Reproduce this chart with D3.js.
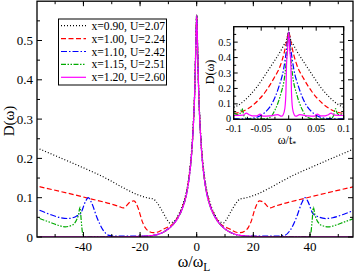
<!DOCTYPE html>
<html>
<head>
<meta charset="utf-8">
<script src="https://cdn.jsdelivr.net/npm/d3@7"></script>
<style>
  body { margin: 0; background: #fff; }
  svg { display: block; font-family: 'Liberation Serif', 'Times New Roman', serif; }
</style>
</head>
<body>
<svg id="chart"></svg>
<script>
// legend / series labels
const labels = ['x=0.90, U=2.07', 'x=1.00, U=2.24', 'x=1.10, U=2.42', 'x=1.15, U=2.51', 'x=1.20, U=2.60'];

// main panel, omega/omega_L >= 0 (curves are symmetric in omega)
const w090 = [0, 0.35, 0.7, 1.2, 1.8, 2.6, 3.6, 4.8, 6.5, 8, 9.5, 10.7, 12.5, 14.2, 15.4, 16.3, 35.3, 55.5];
const d090 = [0.565, 0.478, 0.375, 0.29, 0.22, 0.163, 0.118, 0.085, 0.056, 0.04, 0.036, 0.047, 0.07, 0.089, 0.097, 0.098, 0.161, 0.224];

const w100 = [0, 0.35, 0.7, 1.2, 1.8, 2.6, 3.6, 4.8, 6.5, 8.3, 10, 11.8, 14, 15.3, 17, 18.3, 19.4, 20.5, 22.2, 23.5, 25.9, 27.5, 38.5, 55.5];
const d100 = [0.565, 0.475, 0.372, 0.285, 0.215, 0.158, 0.113, 0.081, 0.053, 0.034, 0.026, 0.02, 0.012, 0.011, 0.015, 0.025, 0.043, 0.07, 0.092, 0.089, 0.074, 0.078, 0.099, 0.128];

const w110 = [0, 0.35, 0.7, 1.2, 1.8, 2.6, 3.6, 4.8, 6.5, 8.5, 11, 14, 17, 20, 28, 31, 33, 35.3, 37, 38.3, 39.3, 41, 42.5, 45.5, 48, 52, 55.5];
const d110 = [0.565, 0.472, 0.37, 0.282, 0.212, 0.155, 0.11, 0.079, 0.051, 0.031, 0.016, 0.006, 0.003, 0.002, 0.002, 0.004, 0.017, 0.051, 0.085, 0.1, 0.09, 0.06, 0.053, 0.047, 0.049, 0.058, 0.068];

const w115 = [0, 0.35, 0.7, 1.2, 1.8, 2.6, 3.6, 4.8, 6.5, 8.5, 11, 14, 18, 24, 39.5, 40.3, 40.8, 41.2, 41.8, 44, 46.5, 49, 52, 55.5];
const d115 = [0.565, 0.47, 0.368, 0.28, 0.21, 0.153, 0.108, 0.077, 0.05, 0.03, 0.015, 0.006, 0.002, 0.001, 0.001, 0.01, 0.044, 0.076, 0.055, 0.03, 0.026, 0.03, 0.038, 0.047];

const w120 = [0, 0.35, 0.7, 1.2, 1.8, 2.6, 3.6, 4.8, 6.5, 8.5, 11, 14, 18, 24, 30, 55.5];
const d120 = [0.565, 0.47, 0.368, 0.28, 0.21, 0.153, 0.108, 0.077, 0.05, 0.03, 0.015, 0.006, 0.002, 0.001, 0.0005, 0.0005];

// inset, omega/t* >= 0
const t090 = [0, 0.004, 0.009, 0.015, 0.021, 0.033, 0.045, 0.0575, 0.073, 0.091, 0.1];
const i090 = [0.565, 0.51, 0.48, 0.44, 0.406, 0.341, 0.276, 0.211, 0.147, 0.093, 0.078];

const t100 = [0, 0.004, 0.009, 0.015, 0.027, 0.042, 0.061, 0.082, 0.1];
const i100 = [0.565, 0.5, 0.42, 0.35, 0.265, 0.18, 0.104, 0.054, 0.038];

const t110 = [0, 0.004, 0.009, 0.018, 0.03, 0.045, 0.061, 0.075, 0.1];
const i110 = [0.565, 0.45, 0.33, 0.21, 0.104, 0.039, 0.01, 0.004, 0.003];

const t115 = [0, 0.003, 0.007, 0.015, 0.025, 0.033, 0.045, 0.075, 0.081, 0.085, 0.088, 0.092, 0.1];
const i115 = [0.565, 0.43, 0.287, 0.157, 0.06, 0.015, 0.003, 0.002, 0.02, 0.07, 0.04, 0.03, 0.04];

const t120 = [0, 0.002, 0.004, 0.005, 0.007, 0.01, 0.013, 0.02, 0.035, 0.047, 0.052, 0.058, 0.066, 0.072, 0.077, 0.083, 0.1];
const i120 = [0.565, 0.45, 0.35, 0.18, 0.07, 0.03, 0.02, 0.03, 0.022, 0.02, 0.033, 0.022, 0.022, 0.03, 0.04, 0.027, 0.025];

const mainXTicks = [-40, -20, 0, 20, 40];
const mainYTicks = [0, 0.1, 0.2, 0.3, 0.4, 0.5];
const insetXTicks = [-0.1, -0.05, 0, 0.05, 0.1];
const insetYTicks = [0, 0.1, 0.2, 0.3, 0.4, 0.5];

const colors = ['#000000', '#ff0000', '#0000ff', '#00aa00', '#ff00ff'];
const dashes = ['1,2', '5,2.5', '6,2,1.5,2', '5,1.5,1.5,1.5,1.5,1.5', null];

const series = [
  [w090, d090, t090, i090],
  [w100, d100, t100, i100],
  [w110, d110, t110, i110],
  [w115, d115, t115, i115],
  [w120, d120, t120, i120],
].map(([w, d, t, i], k) => ({ w, d, t, i, label: labels[k], color: colors[k], dash: dashes[k] }));

// symmetric: D(-w) = D(w)
const mirror = (xs, ys) => {
  const pts = xs.map((x, j) => [x, ys[j]]);
  const neg = pts.slice(1).reverse().map(([x, y]) => [-x, y]);
  return neg.concat(pts);
};

const width = 354;
const height = 273;

const svg = d3.select('#chart')
  .attr('width', width)
  .attr('height', height);

const scaleX = d3.scaleLinear().domain([-56.4, 55.2]).range([37, 353]);
const scaleY = d3.scaleLinear().domain([0, 0.6]).range([237, 1.2]);

const drawFrame = (g, sx, sy, xMajor, xMinor, yMajor, yMinor, majorLen, minorLen) => {
  const [x0, x1] = sx.range();
  const [y0, y1] = sy.range();
  const tick = (x1a, y1a, x2a, y2a) => g.append('line')
    .attr('x1', x1a).attr('y1', y1a).attr('x2', x2a).attr('y2', y2a)
    .attr('stroke', '#000').attr('stroke-width', 1);
  xMinor.forEach(v => {
    tick(sx(v), y0, sx(v), y0 - minorLen);
    tick(sx(v), y1, sx(v), y1 + minorLen);
  });
  xMajor.forEach(v => {
    tick(sx(v), y0, sx(v), y0 - majorLen);
    tick(sx(v), y1, sx(v), y1 + majorLen);
  });
  yMinor.forEach(v => {
    tick(x0, sy(v), x0 + minorLen, sy(v));
    tick(x1, sy(v), x1 - minorLen, sy(v));
  });
  yMajor.forEach(v => {
    tick(x0, sy(v), x0 + majorLen, sy(v));
    tick(x1, sy(v), x1 - majorLen, sy(v));
  });
  g.append('rect')
    .attr('x', x0).attr('y', y1)
    .attr('width', x1 - x0).attr('height', y0 - y1)
    .attr('fill', 'none').attr('stroke', '#000').attr('stroke-width', 1.3);
};

const fmt = v => (v === 0 ? '0' : String(v));

// main panel
svg.append('clipPath').attr('id', 'clipMain')
  .append('rect').attr('x', 37).attr('y', 1.2).attr('width', 316).attr('height', 235.8);

const main = svg.append('g');
const mainLine = d3.line()
  .x(p => scaleX(p[0]))
  .y(p => scaleY(p[1]))
  .curve(d3.curveMonotoneX);

main.append('g').attr('clip-path', 'url(#clipMain)')
  .selectAll('path')
  .data(series)
  .enter().append('path')
  .attr('d', s => mainLine(mirror(s.w, s.d)))
  .attr('fill', 'none')
  .attr('stroke', s => s.color)
  .attr('stroke-width', 1.2)
  .attr('stroke-dasharray', s => s.dash);

drawFrame(main, scaleX, scaleY,
  mainXTicks, d3.range(-50, 56, 10),
  mainYTicks, d3.range(0.05, 0.6, 0.1),
  5, 3);

main.selectAll('.xlab')
  .data(mainXTicks)
  .enter().append('text')
  .attr('x', d => scaleX(d))
  .attr('y', 251)
  .attr('text-anchor', 'middle')
  .attr('font-size', 13)
  .text(fmt);

main.selectAll('.ylab')
  .data(mainYTicks)
  .enter().append('text')
  .attr('x', 33)
  .attr('y', d => scaleY(d) + 4.5)
  .attr('text-anchor', 'end')
  .attr('font-size', 13)
  .text(fmt);

main.append('text')
  .attr('transform', 'translate(14,121) rotate(-90)')
  .attr('text-anchor', 'middle')
  .attr('font-size', 15)
  .text('D(ω)');

const xTitle = main.append('text')
  .attr('x', 194)
  .attr('y', 267)
  .attr('text-anchor', 'middle')
  .attr('font-size', 16);
xTitle.append('tspan').text('ω/ω');
xTitle.append('tspan').attr('font-size', 11.5).attr('dy', 4).text('L');

// legend
const legend = svg.append('g');
legend.append('rect')
  .attr('x', 58.5).attr('y', 19)
  .attr('width', 108).attr('height', 66)
  .attr('fill', '#fff').attr('stroke', '#000').attr('stroke-width', 1);

const entry = legend.selectAll('.entry')
  .data(series)
  .enter().append('g')
  .attr('transform', (d, i) => `translate(0,${25.7 + i * 12.9})`);

entry.append('line')
  .attr('x1', 61).attr('x2', 86).attr('y1', 0).attr('y2', 0)
  .attr('stroke', d => d.color)
  .attr('stroke-width', 1.2)
  .attr('stroke-dasharray', d => d.dash);

entry.append('text')
  .attr('x', 91.5)
  .attr('y', 4)
  .attr('font-size', 11.6)
  .text(d => d.label);

// inset
const insetX = d3.scaleLinear().domain([-0.1, 0.1]).range([233.7, 343.7]);
const insetY = d3.scaleLinear().domain([0, 0.6]).range([119.3, 26.7]);

const inset = svg.append('g');
inset.append('rect')
  .attr('x', 233.7).attr('y', 26.7)
  .attr('width', 110).attr('height', 92.6)
  .attr('fill', '#fff');

inset.append('clipPath').attr('id', 'clipInset')
  .append('rect').attr('x', 233.7).attr('y', 26.7).attr('width', 110).attr('height', 92.6);

const insetLine = d3.line()
  .x(p => insetX(p[0]))
  .y(p => insetY(p[1]))
  .curve(d3.curveMonotoneX);

inset.append('g').attr('clip-path', 'url(#clipInset)')
  .selectAll('path')
  .data(series)
  .enter().append('path')
  .attr('d', s => insetLine(mirror(s.t, s.i)))
  .attr('fill', 'none')
  .attr('stroke', s => s.color)
  .attr('stroke-width', 1.2)
  .attr('stroke-dasharray', s => s.dash);

drawFrame(inset, insetX, insetY,
  insetXTicks, [-0.075, -0.025, 0.025, 0.075],
  insetYTicks, d3.range(0.05, 0.6, 0.1),
  4, 2.5);

inset.selectAll('.ixlab')
  .data(insetXTicks)
  .enter().append('text')
  .attr('x', d => insetX(d))
  .attr('y', 131.5)
  .attr('text-anchor', 'middle')
  .attr('font-size', 10.2)
  .text(fmt);

inset.selectAll('.iylab')
  .data(insetYTicks)
  .enter().append('text')
  .attr('x', 231)
  .attr('y', d => insetY(d) + (d === 0 ? 2.5 : 3.5))
  .attr('text-anchor', 'end')
  .attr('font-size', 10.2)
  .text(fmt);

inset.append('text')
  .attr('transform', 'translate(214,72) rotate(-90)')
  .attr('text-anchor', 'middle')
  .attr('font-size', 12)
  .text('D(ω)');

const iTitle = inset.append('text')
  .attr('x', 287)
  .attr('y', 143.5)
  .attr('text-anchor', 'middle')
  .attr('font-size', 12);
iTitle.append('tspan').text('ω/t');
iTitle.append('tspan').attr('font-size', 8).attr('dy', 3).text('*');
</script>
</body>
</html>
